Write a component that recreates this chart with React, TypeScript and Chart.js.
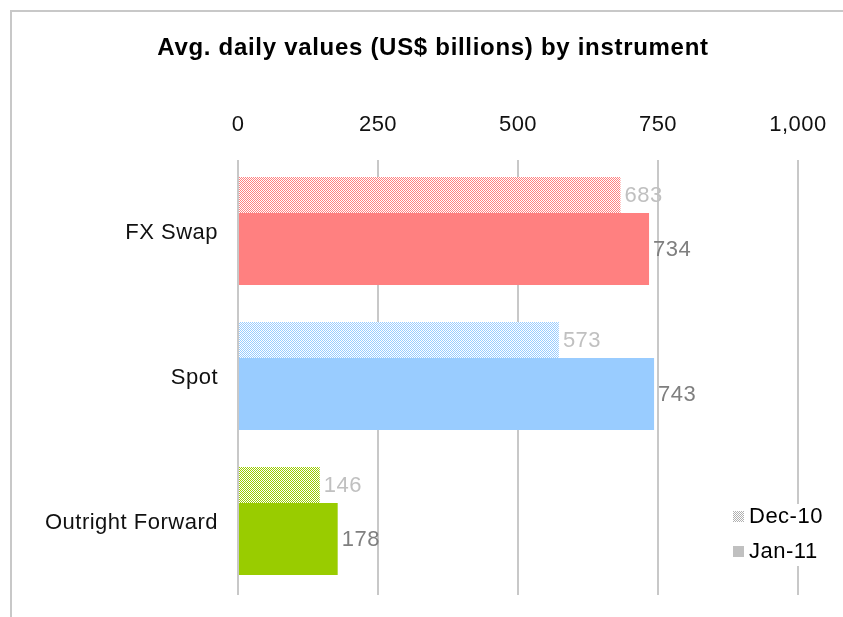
import React, { useEffect, useRef } from "react";
import { Chart, registerables } from "chart.js";

Chart.register(...registerables);

const TITLE = "Avg. daily values (US$ billions) by instrument";
const categories = ["FX Swap", "Spot", "Outright Forward"];
const seriesLabels = ["Dec-10", "Jan-11"];
const dec10Values = [683, 573, 146];
const jan11Values = [734, 743, 178];
const barColors = ["#FF8080", "#99CCFF", "#99CC00"];
const xMin = 0;
const xMax = 1000;
const xStep = 250;

const FONT = "'Liberation Sans', Arial, sans-serif";

function checker(color: string): CanvasPattern | string {
  const c = document.createElement("canvas");
  c.width = 2;
  c.height = 2;
  const g = c.getContext("2d");
  if (!g) return color;
  g.fillStyle = "#ffffff";
  g.fillRect(0, 0, 2, 2);
  g.fillStyle = color;
  g.fillRect(0, 0, 1, 1);
  g.fillRect(1, 1, 1, 1);
  const p = g.createPattern(c, "repeat");
  return p || color;
}

const framePlugin = {
  id: "frame",
  beforeDraw(chart: any) {
    const { ctx, width, height } = chart;
    (ctx as any).letterSpacing = "0.5px";
    ctx.save();
    ctx.fillStyle = "#ffffff";
    ctx.fillRect(0, 0, width, height);
    ctx.strokeStyle = "#c8c8c8";
    ctx.lineWidth = 2;
    ctx.beginPath();
    ctx.moveTo(11, height);
    ctx.lineTo(11, 11);
    ctx.lineTo(width, 11);
    ctx.stroke();
    ctx.fillStyle = "#000000";
    ctx.font = `bold 24px ${FONT}`;
    (ctx as any).letterSpacing = "0.7px";
    ctx.textAlign = "center";
    ctx.textBaseline = "middle";
    ctx.fillText(TITLE, 433, 48);
    ctx.restore();
  },
};

const valueLabelPlugin = {
  id: "valueLabels",
  afterDatasetsDraw(chart: any) {
    const { ctx } = chart;
    ctx.save();
    ctx.font = `22px ${FONT}`;
    ctx.textAlign = "left";
    ctx.textBaseline = "middle";
    chart.data.datasets.forEach((ds: any, di: number) => {
      const meta = chart.getDatasetMeta(di);
      ctx.fillStyle = di === 0 ? "#c0c0c0" : "#7f7f7f";
      meta.data.forEach((el: any, i: number) => {
        ctx.fillText(String(ds.data[i]), el.x + 4, el.y + 1);
      });
    });
    ctx.restore();
  },
};

const legendPlugin = {
  id: "customLegend",
  afterDraw(chart: any) {
    const { ctx } = chart;
    ctx.save();
    ctx.fillStyle = "#ffffff";
    ctx.fillRect(726, 504, 100, 62);
    ctx.font = `22px ${FONT}`;
    ctx.textAlign = "left";
    ctx.textBaseline = "middle";
    const rows = [516, 551];
    chart.data.datasets.forEach((ds: any, di: number) => {
      const y = rows[di];
      ctx.fillStyle = di === 0 ? checker("#b0b0b0") : "#c0c0c0";
      ctx.fillRect(733, y - 5, 11, 11);
      ctx.fillStyle = "#000000";
      ctx.fillText(ds.label, 749, y + 1);
    });
    ctx.restore();
  },
};

function zeroPad(s: any) {
  s.paddingLeft = 0;
  s.paddingRight = 0;
  s.paddingTop = 0;
  s.paddingBottom = 0;
}

export default function App() {
  const canvasRef = useRef<HTMLCanvasElement | null>(null);

  useEffect(() => {
    if (!canvasRef.current) return;
    const chart = new Chart(canvasRef.current, {
      type: "bar",
      data: {
        labels: categories,
        datasets: [
          {
            label: seriesLabels[0],
            data: dec10Values,
            backgroundColor: barColors.map((c) => checker(c)) as any,
            borderWidth: 0,
            categoryPercentage: 1.0345,
            barPercentage: 0.48,
          },
          {
            label: seriesLabels[1],
            data: jan11Values,
            backgroundColor: barColors,
            borderWidth: 0,
            categoryPercentage: 0.455,
            barPercentage: 2.1818,
          },
        ],
      },
      options: {
        indexAxis: "y",
        responsive: false,
        animation: false,
        layout: { padding: { top: 100, left: 0, right: 45, bottom: 22 } },
        plugins: {
          legend: { display: false },
          title: { display: false },
          tooltip: { enabled: false },
        },
        scales: {
          x: {
            position: "top",
            min: xMin,
            max: xMax,
            ticks: {
              stepSize: xStep,
              padding: 22,
              color: "#111111",
              font: { family: FONT, size: 22 },
              callback: (v: any) => Number(v).toLocaleString("en-US"),
            },
            grid: { color: "#c8c8c8", lineWidth: 2, drawTicks: false },
            border: { display: false },
            afterFit: (s: any) => {
              s.height = 60;
              zeroPad(s);
            },
          },
          y: {
            ticks: {
              padding: 20,
              color: "#111111",
              font: { family: FONT, size: 22 },
            },
            grid: { display: false, drawTicks: false },
            border: { display: false },
            afterFit: (s: any) => {
              s.width = 238;
              zeroPad(s);
            },
          },
        },
      },
      plugins: [framePlugin, valueLabelPlugin, legendPlugin],
    });
    return () => chart.destroy();
  }, []);

  return (
    <div style={{ position: "absolute", left: 0, top: 0, width: 843, height: 617 }}>
      <canvas ref={canvasRef} width={843} height={617} />
    </div>
  );
}
